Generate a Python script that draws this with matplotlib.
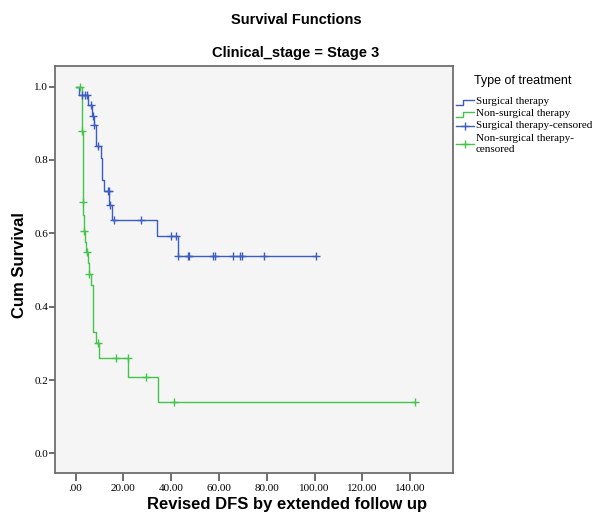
import matplotlib
matplotlib.use("Agg")
import matplotlib.pyplot as plt
from matplotlib.lines import Line2D

# Kaplan-Meier steps (time, survival after the step)
surg_t = [0, 1.5, 5.3, 6.7, 7.6, 8.6, 10.5, 11.0, 11.2, 12.0, 14.0, 15.1, 34.2, 43.0, 100.5]
surg_s = [1.0, 0.976, 0.951, 0.92, 0.894, 0.837, 0.805, 0.775, 0.745, 0.715, 0.677, 0.637, 0.593, 0.538, 0.538]

nonsurg_t = [0, 2.65, 2.75, 2.85, 2.88, 2.95, 3.0, 3.05, 3.1, 3.15, 3.18, 3.3, 3.45, 3.9, 4.4,
             5.2, 5.5, 6.4, 7.4, 8.4, 9.9, 22.1, 34.3, 142.0]
nonsurg_s = [1.0, 0.97, 0.94, 0.91, 0.88, 0.85, 0.82, 0.78, 0.75, 0.72, 0.685, 0.65, 0.605, 0.575, 0.548,
             0.518, 0.49, 0.46, 0.33, 0.30, 0.26, 0.208, 0.139, 0.139]

# censored cases
surg_cens_t = [2.5, 3.9, 4.9, 6.3, 7.4, 7.8, 9.2, 13.4, 14.0, 14.4, 16.1, 27.4, 39.8, 42.0,
               43.0, 46.9, 47.4, 57.4, 58.3, 65.7, 68.8, 69.6, 79.0, 100.5]
surg_cens_s = [0.976, 0.976, 0.976, 0.951, 0.92, 0.894, 0.837, 0.715, 0.715, 0.677, 0.637, 0.637, 0.593, 0.593,
               0.538, 0.538, 0.538, 0.538, 0.538, 0.538, 0.538, 0.538, 0.538, 0.538]

nonsurg_cens_t = [1.7, 2.9, 3.2, 3.5, 4.8, 5.7, 9.5, 16.9, 22.1, 29.3, 41.3, 142.0]
nonsurg_cens_s = [1.0, 0.88, 0.685, 0.605, 0.548, 0.49, 0.30, 0.26, 0.26, 0.208, 0.139, 0.139]

x_ticks = [0, 20, 40, 60, 80, 100, 120, 140]
x_tick_labels = [".00", "20.00", "40.00", "60.00", "80.00", "100.00", "120.00", "140.00"]
y_ticks = [0.0, 0.2, 0.4, 0.6, 0.8, 1.0]

legend_labels = ["Surgical therapy", "Non-surgical therapy", "Surgical therapy-censored",
                 "Non-surgical therapy-\ncensored"]

blue = "#3d5cbf"
green = "#44c44c"
serif = "Liberation Serif"
sans = "Liberation Sans"

W, H = 592, 519


def px(x, y):
    # pixel position (from top-left) -> figure fraction
    return x / W, 1 - y / H


fig = plt.figure(figsize=(W / 100, H / 100), dpi=100)
ax = fig.add_axes([55 / W, 46.5 / H, 398 / W, 406.5 / H])
ax.set_facecolor("#f5f5f5")

ax.step(surg_t, surg_s, where="post", color=blue, lw=1.0)
ax.step(nonsurg_t, nonsurg_s, where="post", color=green, lw=1.0)
ax.plot(surg_cens_t, surg_cens_s, "+", color=blue, ms=5.5, mew=1.0)
ax.plot(nonsurg_cens_t, nonsurg_cens_s, "+", color=green, ms=5.5, mew=1.0)

ax.set_xlim(-8.6, 157.9)
ax.set_ylim(-0.052, 1.056)
ax.set_xticks(x_ticks)
ax.set_xticklabels(x_tick_labels, fontfamily=serif, fontsize=8)
ax.set_yticks(y_ticks)
ax.set_yticklabels([f"{v:.1f}" for v in y_ticks], fontfamily=serif, fontsize=8)
ax.tick_params(axis="x", direction="out", length=6, width=1.2, color="#555555", pad=2)
ax.tick_params(axis="y", direction="out", length=4, width=1.2, color="#555555", pad=1)
for sp in ax.spines.values():
    sp.set_color("#6e6e6e")
    sp.set_linewidth(1.3)

fig.text(*px(20, 265), "Cum Survival", rotation=90, ha="center", va="center",
         fontfamily=sans, fontsize=12, fontweight="bold")
fig.text(*px(287, 504), "Revised DFS by extended follow up", ha="center", va="center",
         fontfamily=sans, fontsize=12, fontweight="bold")

fig.text(*px(296, 20), "Survival Functions", ha="center", va="center",
         fontfamily=sans, fontsize=10.5, fontweight="bold")
fig.text(*px(296, 53), "Clinical_stage = Stage 3", ha="center", va="center",
         fontfamily=sans, fontsize=10.5, fontweight="bold")

# legend, laid out by hand like the SPSS one
fig.text(*px(474, 81), "Type of treatment", ha="left", va="center", fontfamily=sans, fontsize=9)
row_y = [102, 114, 126, 144]
hx0, hx1, tx = 456, 474, 476
for i, (lab, col) in enumerate(zip(legend_labels, [blue, green, blue, green])):
    y = row_y[i]
    if i < 2:
        xs = [hx0, hx0 + 7, hx0 + 7, hx1]
        ys = [y + 3, y + 3, y - 2, y - 2]
        fig.add_artist(Line2D([p / W for p in xs], [1 - p / H for p in ys], color=col, lw=1.0))
    else:
        fig.add_artist(Line2D([hx0 / W, hx1 / W], [1 - y / H] * 2, color=col, lw=1.0))
        fig.add_artist(Line2D([(hx0 + hx1) / 2 / W], [1 - y / H], color=col, marker="+", ms=5.5, mew=1.0))
    fig.text(*px(tx, y), lab, ha="left", va="center", fontfamily=serif, fontsize=8, linespacing=1.15)

fig.savefig("out.png", dpi=100)
